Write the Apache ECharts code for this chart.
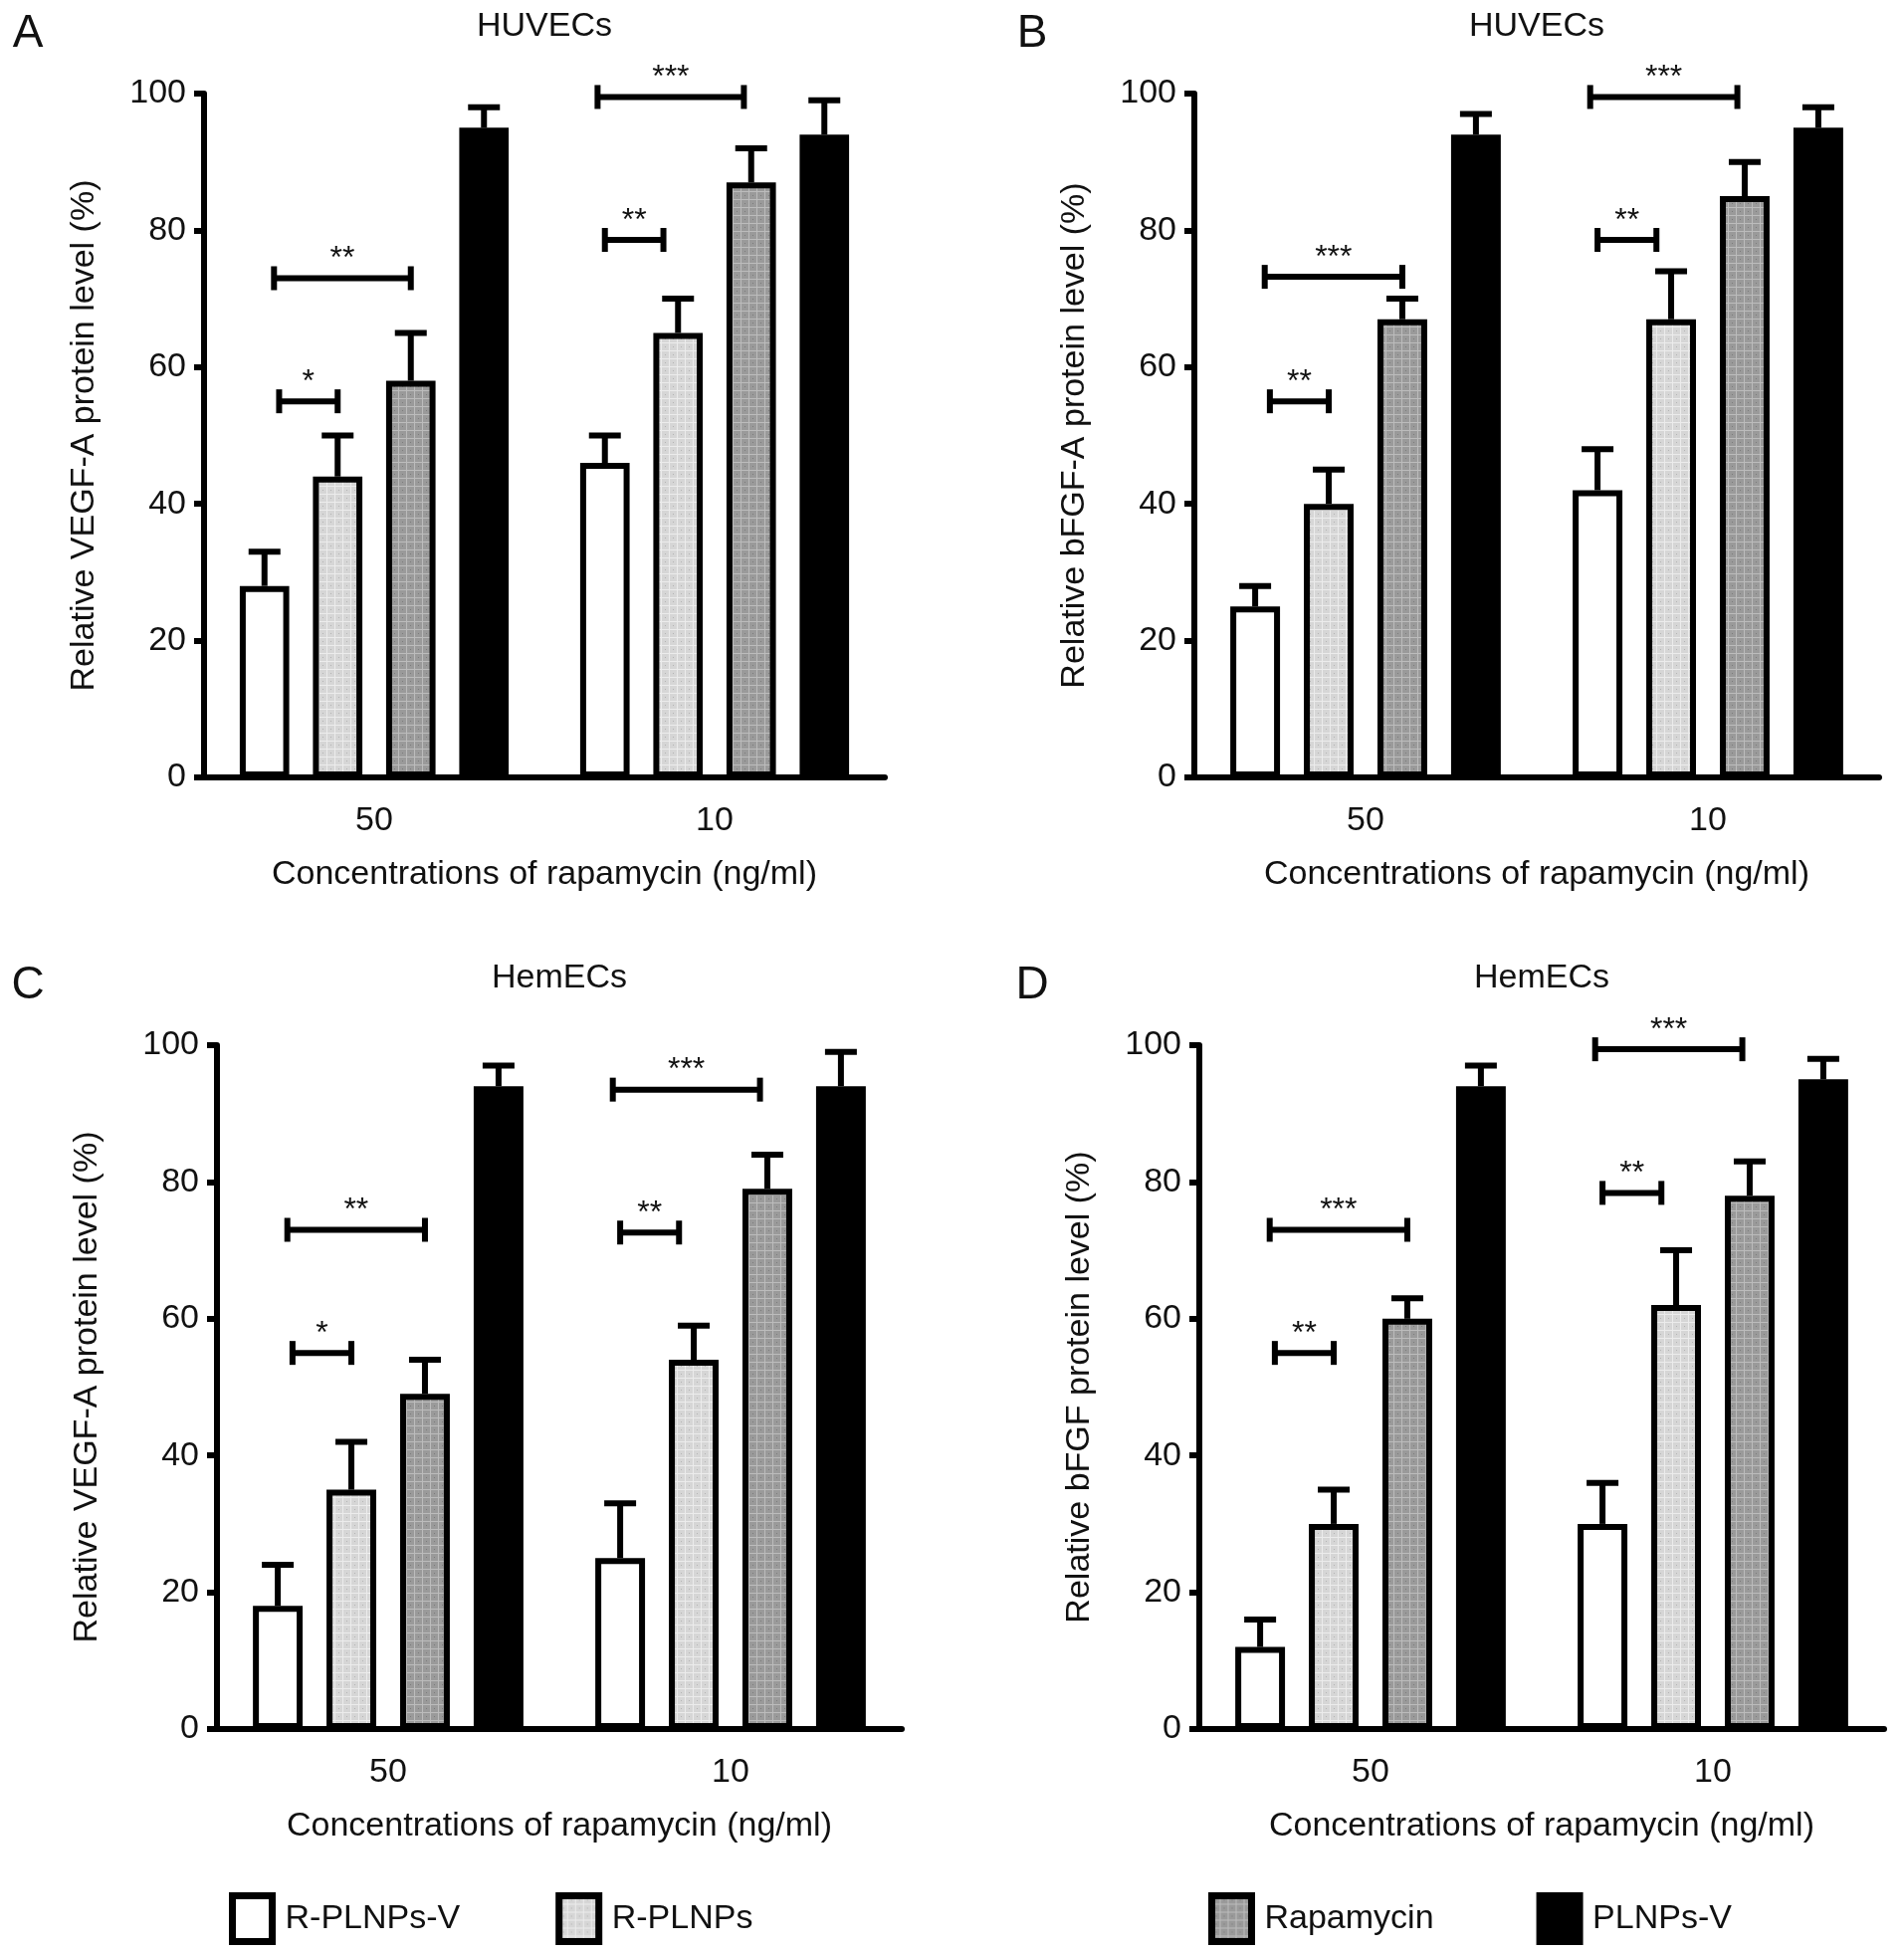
<!DOCTYPE html>
<html>
<head>
<meta charset="UTF-8">
<title>VEGF-A / bFGF protein level</title>
<script src="https://cdn.jsdelivr.net/npm/echarts@6/dist/echarts.min.js"></script>
<style>
  html, body { margin: 0; padding: 0; background: #fff; }
  #main { width: 1913px; height: 1963px; }
</style>
</head>
<body>
<div id="main"></div>
<script>
// ---- data ----
var groups = ['50', '10'];
var seriesNames = ['R-PLNPs-V', 'R-PLNPs', 'Rapamycin', 'PLNPs-V'];

// mean per series, [50 ng/ml, 10 ng/ml]
var meanA = [[28, 46], [44, 65], [58, 87], [95, 94]];
var sdA   = [[5, 4], [6, 5], [7, 5], [3, 5]];
var meanB = [[25, 42], [40, 67], [67, 85], [94, 95]];
var sdB   = [[3, 6], [5, 7], [3, 5], [3, 3]];
var meanC = [[18, 25], [35, 54], [49, 79], [94, 94]];
var sdC   = [[6, 8], [7, 5], [5, 5], [3, 5]];
var meanD = [[12, 30], [30, 62], [60, 78], [94, 95]];
var sdD   = [[4, 6], [5, 8], [3, 5], [3, 3]];

// significance brackets: [group, from bar, to bar, y, label]
var sigA = [[0, 0.2, 1, 55, '*'], [0, 0.13, 2, 73, '**'], [1, 0, 0.8, 78.6, '**'], [1, -0.1, 1.9, 99.5, '***']];
var sigB = [[0, 0.2, 1, 55, '**'], [0, 0.13, 2, 73.2, '***'], [1, 0, 0.8, 78.6, '**'], [1, -0.1, 1.9, 99.5, '***']];
var sigC = [[0, 0.2, 1, 55, '*'], [0, 0.13, 2, 73, '**'], [1, 0, 0.8, 72.6, '**'], [1, -0.1, 1.9, 93.5, '***']];
var sigD = [[0, 0.2, 1, 55, '**'], [0, 0.13, 2, 73, '***'], [1, 0, 0.8, 78.4, '**'], [1, -0.1, 1.9, 99.4, '***']];

var panels = [
  { letter: 'A', title: 'HUVECs', yName: 'Relative VEGF-A protein level (%)', mean: meanA, sd: sdA, sig: sigA,
    grid: { left: 205, top: 94, width: 684, height: 687 }, nameGap: 103 },
  { letter: 'B', title: 'HUVECs', yName: 'Relative bFGF-A protein level (%)', mean: meanB, sd: sdB, sig: sigB,
    grid: { left: 1200, top: 94, width: 688, height: 687 }, nameGap: 103 },
  { letter: 'C', title: 'HemECs', yName: 'Relative VEGF-A protein level (%)', mean: meanC, sd: sdC, sig: sigC,
    grid: { left: 218, top: 1050, width: 688, height: 687 }, nameGap: 113 },
  { letter: 'D', title: 'HemECs', yName: 'Relative bFGF protein level (%)', mean: meanD, sd: sdD, sig: sigD,
    grid: { left: 1205, top: 1050, width: 688, height: 687 }, nameGap: 103 }
];

var FONT = '"Liberation Sans", Arial, Helvetica, sans-serif';
var INK = '#111';
var LW = 6;
var BAR_GAP = 0.48, CAT_GAP = 0.21;

// hatched grey fills
function makePattern(base, line, dot) {
  var c = document.createElement('canvas');
  c.width = 8; c.height = 8;
  var ctx = c.getContext('2d');
  ctx.fillStyle = base; ctx.fillRect(0, 0, 8, 8);
  ctx.fillStyle = line; ctx.fillRect(0, 0, 8, 1); ctx.fillRect(0, 0, 1, 8);
  ctx.fillStyle = dot; ctx.fillRect(4, 4, 1, 1);
  return { image: c, repeat: 'repeat' };
}
var fills = ['#ffffff', makePattern('#d6d6d6', '#ececec', '#b4b4b4'), makePattern('#9a9a9a', '#bcbcbc', '#7c7c7c'), '#000000'];

function barPos(api, group, idx) {
  var c = api.coord([group, 0]);
  var band = api.size([1, 0])[0];
  var n = seriesNames.length;
  var w = band * (1 - CAT_GAP) / (n + (n - 1) * BAR_GAP);
  var total = n * w + (n - 1) * w * BAR_GAP;
  return c[0] - total / 2 + w / 2 + idx * w * (1 + BAR_GAP);
}

var grids = [], xAxes = [], yAxes = [], series = [], graphics = [];

panels.forEach(function (p, gi) {
  grids.push(p.grid);
  xAxes.push({
    type: 'category', gridIndex: gi, data: groups,
    name: 'Concentrations of rapamycin (ng/ml)', nameLocation: 'middle', nameGap: 81,
    nameTextStyle: { fontSize: 34, color: INK, fontFamily: FONT },
    axisLine: { lineStyle: { color: '#000', width: LW } },
    axisTick: { alignWithLabel: true, length: 12, lineStyle: { color: '#000', width: LW } },
    axisLabel: { fontSize: 34, color: INK, fontFamily: FONT, margin: 27 }
  });
  yAxes.push({
    type: 'value', gridIndex: gi, min: 0, max: 100, interval: 20,
    name: p.yName, nameLocation: 'middle', nameGap: p.nameGap,
    nameTextStyle: { fontSize: 34, color: INK, fontFamily: FONT },
    axisLine: { show: true, lineStyle: { color: '#000', width: LW } },
    axisTick: { show: true, length: 10, lineStyle: { color: '#000', width: LW } },
    axisLabel: { fontSize: 34, color: INK, fontFamily: FONT, margin: 18 },
    splitLine: { show: false }
  });

  seriesNames.forEach(function (name, si) {
    series.push({
      type: 'bar', name: name, xAxisIndex: gi, yAxisIndex: gi,
      data: p.mean[si], barGap: (BAR_GAP * 100) + '%', barCategoryGap: (CAT_GAP * 100) + '%',
      itemStyle: { color: fills[si], borderColor: '#000', borderWidth: LW },
      emphasis: { disabled: true }, z: 2
    });
  });

  // upper error bars
  var errData = [];
  p.mean.forEach(function (vals, si) {
    vals.forEach(function (v, g) { errData.push([g, si, v, v + p.sd[si][g]]); });
  });
  series.push({
    type: 'custom', xAxisIndex: gi, yAxisIndex: gi, data: errData, z: 5, silent: true,
    renderItem: function (params, api) {
      var g = api.value(0), si = api.value(1);
      var x = barPos(api, g, si);
      var y0 = api.coord([g, api.value(2)])[1];
      var y1 = api.coord([g, api.value(3)])[1];
      var st = { stroke: '#000', lineWidth: LW };
      return { type: 'group', children: [
        { type: 'line', shape: { x1: x, y1: y0, x2: x, y2: y1 }, style: st },
        { type: 'line', shape: { x1: x - 16, y1: y1, x2: x + 16, y2: y1 }, style: st }
      ] };
    }
  });

  // significance brackets
  series.push({
    type: 'custom', xAxisIndex: gi, yAxisIndex: gi, data: p.sig, z: 5, silent: true,
    renderItem: function (params, api) {
      var s = p.sig[params.dataIndex];
      var xa = barPos(api, s[0], s[1]);
      var xb = barPos(api, s[0], s[2]);
      var y = api.coord([s[0], s[3]])[1];
      var st = { stroke: '#000', lineWidth: LW };
      return { type: 'group', children: [
        { type: 'line', shape: { x1: xa, y1: y, x2: xb, y2: y }, style: st },
        { type: 'line', shape: { x1: xa, y1: y - 12, x2: xa, y2: y + 12 }, style: st },
        { type: 'line', shape: { x1: xb, y1: y - 12, x2: xb, y2: y + 12 }, style: st },
        { type: 'text', style: { x: (xa + xb) / 2, y: y - 3, text: s[4], fontSize: 32, fontFamily: FONT,
          fill: INK, align: 'center', verticalAlign: 'bottom' } }
      ] };
    }
  });

  var cx = p.grid.left + p.grid.width / 2;
  graphics.push({ type: 'text', x: cx, y: p.grid.top - 67, style: { text: p.title, fontSize: 34, fontFamily: FONT,
    fill: INK, align: 'center', verticalAlign: 'middle' } });
  graphics.push({ type: 'text', x: gi % 2 === 0 ? 28 : 1037, y: p.grid.top - 60, style: { text: p.letter, fontSize: 46,
    fontFamily: FONT, fill: INK, align: 'center', verticalAlign: 'middle' } });
});

var legendCommon = {
  top: 1896, itemWidth: 40, itemHeight: 46, icon: 'rect', selectedMode: false,
  itemStyle: { borderColor: '#000', borderWidth: 7 },
  textStyle: { fontSize: 34, color: INK, fontFamily: FONT, padding: [0, 0, 0, 8] }
};

var chart = echarts.init(document.getElementById('main'), null, { renderer: 'canvas' });
chart.setOption({
  backgroundColor: '#fff',
  animation: false,
  textStyle: { fontFamily: FONT },
  grid: grids,
  xAxis: xAxes,
  yAxis: yAxes,
  legend: [
    echarts.util.merge({ data: seriesNames.slice(0, 2), left: 225, itemGap: 96 }, legendCommon),
    echarts.util.merge({ data: seriesNames.slice(2, 4), left: 1209, itemGap: 103 }, legendCommon)
  ],
  graphic: graphics,
  series: series
});
</script>
</body>
</html>
